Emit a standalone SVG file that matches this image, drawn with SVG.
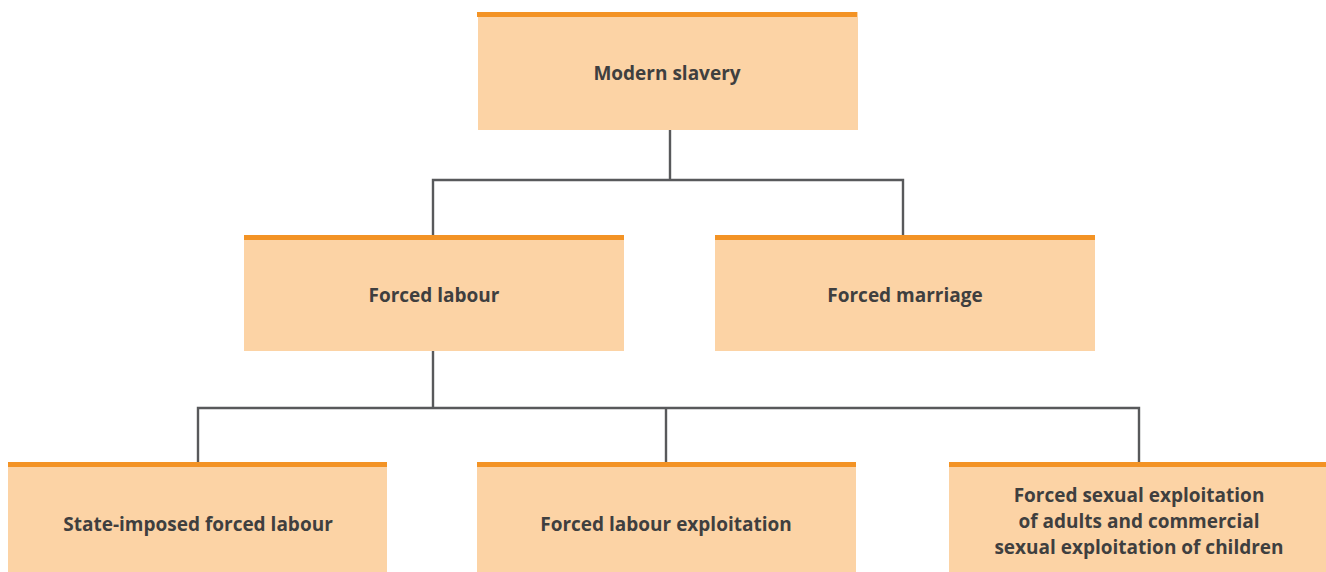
<svg xmlns="http://www.w3.org/2000/svg" width="1326" height="572" viewBox="0 0 1326 572">
<style>
.box{fill:#fcd3a5}
.bar{fill:#f39325}
.t{font-family:"Open Sans","Liberation Sans",sans-serif;font-weight:bold;font-size:19px;fill:#3f3f3f;text-anchor:middle}
.c{fill:none;stroke:#58595b;stroke-width:2.4}
</style>
<rect width="1326" height="572" fill="#ffffff"/>
<g id="connectors">
<path class="c" d="M670 130V180M433 236V180H903V236"/>
<path class="c" d="M433 351V408M198 463V408H1139V463M666 408V463"/>
</g>
<g id="modern-slavery">
<rect class="box" x="478" y="12" width="380" height="118"/>
<rect class="bar" x="477" y="12" width="380" height="5"/>
<text class="t" x="667" y="80">Modern slavery</text>
</g>
<g id="forced-labour">
<rect class="box" x="244" y="235" width="380" height="116"/>
<rect class="bar" x="244" y="235" width="380" height="5"/>
<text class="t" x="434" y="302">Forced labour</text>
</g>
<g id="forced-marriage">
<rect class="box" x="715" y="235" width="380" height="116"/>
<rect class="bar" x="715" y="235" width="380" height="5"/>
<text class="t" x="905" y="302">Forced marriage</text>
</g>
<g id="state-imposed">
<rect class="box" x="8" y="462" width="379" height="110"/>
<rect class="bar" x="8" y="462" width="379" height="5"/>
<text class="t" x="198" y="531">State-imposed forced labour</text>
</g>
<g id="forced-labour-exploitation">
<rect class="box" x="477" y="462" width="379" height="110"/>
<rect class="bar" x="477" y="462" width="379" height="5"/>
<text class="t" x="666" y="531">Forced labour exploitation</text>
</g>
<g id="forced-sexual-exploitation">
<rect class="box" x="949" y="462" width="377" height="110"/>
<rect class="bar" x="949" y="462" width="377" height="5"/>
<text class="t" x="1139" y="502">Forced sexual exploitation</text>
<text class="t" x="1139" y="528">of adults and commercial</text>
<text class="t" x="1139" y="554">sexual exploitation of children</text>
</g>
</svg>
